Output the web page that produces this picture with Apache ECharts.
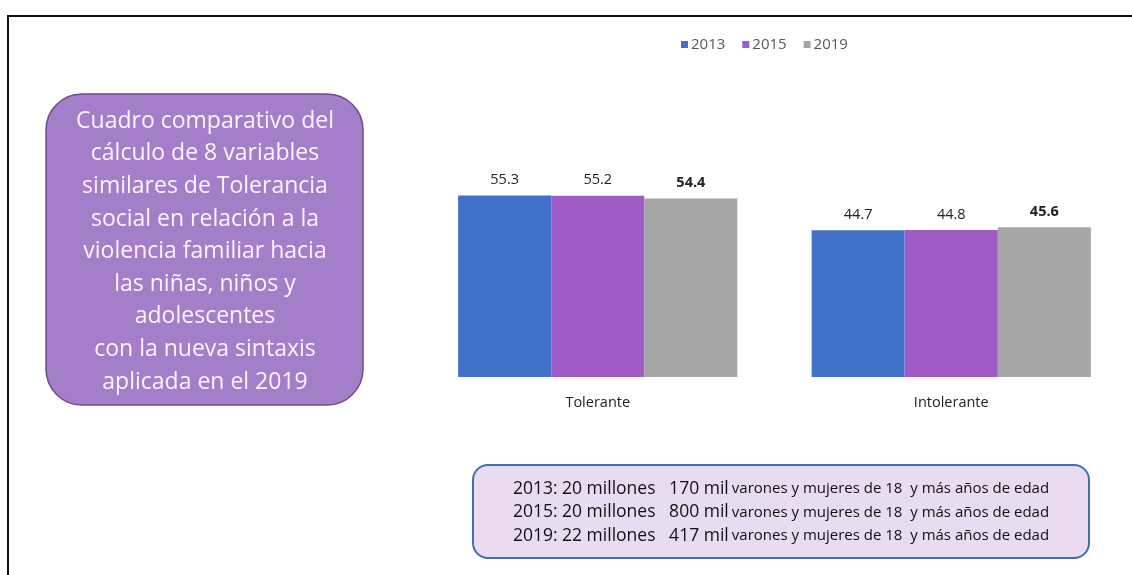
<!DOCTYPE html>
<html>
<head>
<meta charset="utf-8">
<script src="https://cdn.jsdelivr.net/npm/echarts@6/dist/echarts.min.js"></script>
<style>
html,body{margin:0;padding:0;background:#fff;}
#c{width:1132px;height:575px;}
</style>
</head>
<body>
<div id="c"></div>
<script>
const categories = ['Tolerante', 'Intolerante'];
const seriesNames = ['2013', '2015', '2019'];
const values2013 = [55.3, 44.7];
const values2015 = [55.2, 44.8];
const values2019 = [54.4, 45.6];
const yTicks = [0, 60];
const boxLines = [
  'Cuadro comparativo del',
  'cálculo de 8 variables',
  'similares de Tolerancia',
  'social en relación a la',
  'violencia familiar hacia',
  'las niñas, niños y',
  'adolescentes',
  'con la nueva sintaxis',
  'aplicada en el 2019'
];
const popYears = ['2013', '2015', '2019'];
const popMillions = ['20 millones', '20 millones', '22 millones'];
const popThousands = ['170 mil', '800 mil', '417 mil'];
const popSuffix = 'varones y mujeres de 18  y más años de edad';

const colors = ['#4271c9', '#a05cc6', '#a6a6a6'];
const FONT = '"Open Sans", "Noto Sans", sans-serif';

const chart = echarts.init(document.getElementById('c'));

function mkSeries(name, data, idx, bold) {
  return {
    name: name,
    type: 'bar',
    data: data,
    barGap: '0%',
    barCategoryGap: '21%',
    itemStyle: { color: colors[idx] },
    label: {
      show: true,
      position: 'top',
      distance: 8,
      fontFamily: FONT,
      fontSize: 14.5,
      fontWeight: bold ? 'bold' : 'normal',
      color: '#222'
    }
  };
}

const bottomText = popYears.map((y, i) =>
  '{a|' + y + ': ' + popMillions[i] + '   ' + popThousands[i] + '} {b|' + popSuffix + '}'
).join('\n');

chart.setOption({
  animation: false,
  textStyle: { fontFamily: FONT },
  legend: {
    data: seriesNames,
    left: 676,
    top: 32,
    icon: 'rect',
    itemWidth: 7,
    itemHeight: 7,
    itemGap: 17,
    textStyle: { fontSize: 15, color: '#595959', fontFamily: FONT, padding: [0, 0, 0, -2] }
  },
  grid: { left: 421, right: 4, top: 180, bottom: 198 },
  xAxis: {
    type: 'category',
    data: categories,
    axisLine: { show: false },
    axisTick: { show: false },
    axisLabel: { margin: 18, fontSize: 14.5, color: '#222', fontFamily: FONT }
  },
  yAxis: {
    type: 'value',
    min: yTicks[0],
    max: yTicks[1],
    show: false,
    splitLine: { show: false }
  },
  series: [
    mkSeries(seriesNames[0], values2013, 0, false),
    mkSeries(seriesNames[1], values2015, 1, false),
    mkSeries(seriesNames[2], values2019, 2, true)
  ],
  graphic: [
    {
      type: 'polyline',
      shape: { points: [[8, 700], [8, 16], [1200, 16]] },
      style: { fill: 'none', stroke: '#111', lineWidth: 2 },
      silent: true
    },
    {
      type: 'rect',
      shape: { x: 46, y: 94, width: 317, height: 311, r: 36 },
      style: { fill: '#a47ec9', stroke: '#6b4d8c', lineWidth: 1.5 },
      silent: true
    },
    {
      type: 'text',
      x: 205,
      y: 105,
      style: {
        text: boxLines.join('\n'),
        align: 'center',
        verticalAlign: 'top',
        fontFamily: FONT,
        fontSize: 23,
        lineHeight: 32.6,
        fill: '#fbf4ff'
      },
      silent: true
    },
    {
      type: 'rect',
      shape: { x: 473, y: 465, width: 616, height: 93, r: 15 },
      style: { fill: '#e9dcf1', stroke: '#3f6fb0', lineWidth: 2 },
      silent: true
    },
    {
      type: 'text',
      x: 781,
      y: 477,
      style: {
        text: bottomText,
        align: 'center',
        verticalAlign: 'top',
        fontFamily: FONT,
        lineHeight: 23.5,
        fill: '#111',
        rich: {
          a: { fontSize: 17.5, fontFamily: FONT, fill: '#111', lineHeight: 23.5 },
          b: { fontSize: 15, fontFamily: FONT, fill: '#111', lineHeight: 23.5 }
        }
      },
      silent: true
    }
  ]
});
</script>
</body>
</html>
